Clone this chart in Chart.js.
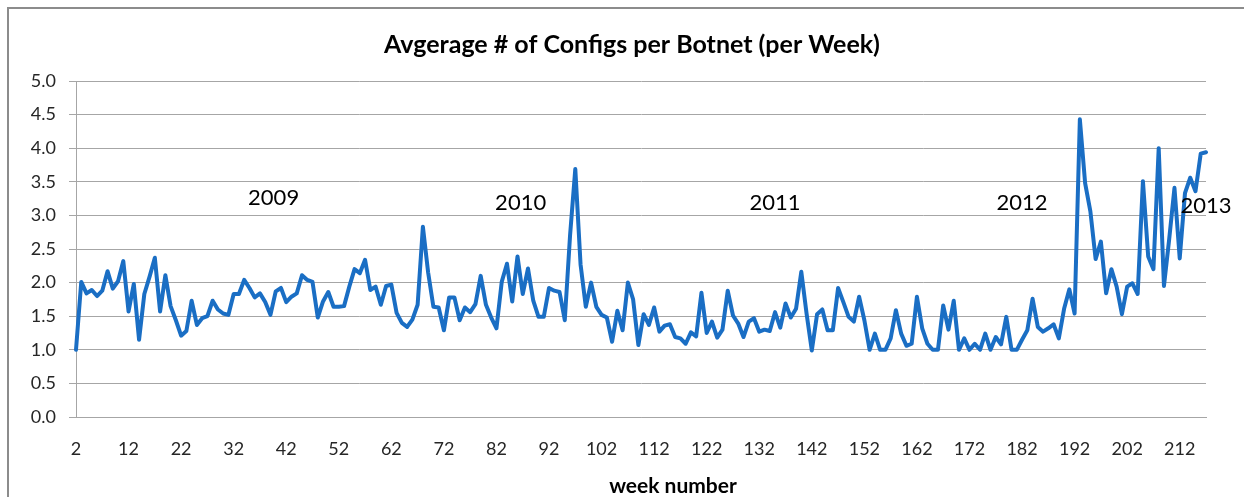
<!DOCTYPE html>
<html>
<head>
<meta charset="utf-8">
<title>Avgerage # of Configs per Botnet (per Week)</title>
<script src="https://cdn.jsdelivr.net/npm/chart.js@4.4.1/dist/chart.umd.min.js"></script>
<style>
  html, body { margin: 0; padding: 0; background: #fff; }
  #wrap { position: relative; width: 1244px; height: 497px; }
</style>
</head>
<body>
<div id="wrap"><canvas id="configsChart"></canvas></div>
<script>
// average configs per botnet, one value per week starting at week 2
const avgConfigs = [
    1.00, 2.01, 1.84, 1.89, 1.80, 1.88, 2.17, 1.91, 2.02, 2.32,
    1.57, 1.98, 1.15, 1.83, 2.09, 2.37, 1.57, 2.11, 1.65, 1.44,
    1.21, 1.28, 1.73, 1.37, 1.47, 1.50, 1.73, 1.60, 1.54, 1.52,
    1.83, 1.83, 2.04, 1.92, 1.78, 1.84, 1.71, 1.52, 1.87, 1.92,
    1.71, 1.79, 1.84, 2.11, 2.04, 2.01, 1.48, 1.72, 1.86, 1.64,
    1.64, 1.65, 1.94, 2.20, 2.14, 2.34, 1.89, 1.94, 1.67, 1.95,
    1.97, 1.55, 1.40, 1.34, 1.45, 1.67, 2.83, 2.15, 1.64, 1.63,
    1.29, 1.78, 1.78, 1.44, 1.63, 1.56, 1.68, 2.10, 1.67, 1.48,
    1.32, 2.01, 2.28, 1.72, 2.39, 1.83, 2.21, 1.73, 1.49, 1.49,
    1.92, 1.88, 1.86, 1.44, 2.70, 3.69, 2.27, 1.64, 2.00, 1.64,
    1.52, 1.48, 1.12, 1.58, 1.29, 2.00, 1.75, 1.07, 1.53, 1.37,
    1.63, 1.27, 1.36, 1.38, 1.19, 1.17, 1.09, 1.26, 1.20, 1.85,
    1.25, 1.42, 1.18, 1.30, 1.88, 1.51, 1.39, 1.19, 1.42, 1.47,
    1.27, 1.30, 1.28, 1.56, 1.33, 1.69, 1.48, 1.61, 2.16, 1.54,
    0.99, 1.53, 1.60, 1.29, 1.29, 1.92, 1.71, 1.49, 1.42, 1.79,
    1.44, 1.00, 1.24, 1.00, 1.00, 1.17, 1.59, 1.24, 1.06, 1.09,
    1.79, 1.32, 1.09, 1.00, 1.00, 1.66, 1.30, 1.73, 1.00, 1.17,
    1.00, 1.09, 1.00, 1.24, 1.00, 1.19, 1.08, 1.49, 1.00, 1.00,
    1.15, 1.29, 1.76, 1.34, 1.27, 1.32, 1.38, 1.17, 1.61, 1.90,
    1.54, 4.43, 3.48, 3.06, 2.35, 2.61, 1.84, 2.20, 1.94, 1.53,
    1.94, 1.99, 1.83, 3.51, 2.39, 2.20, 4.00, 1.95, 2.65, 3.41,
    2.36, 3.33, 3.56, 3.36, 3.92, 3.94
];
const firstWeek = 2;
const weeks = avgConfigs.map((_, i) => firstWeek + i);

// year notes placed in the plot (week, value)
const yearLabels = ['2009', '2010', '2011', '2012', '2013'];
const yearWeek = [39.6, 86.6, 135.0, 182.0, 217.0];
const yearLevel = [3.15, 3.08, 3.08, 3.08, 3.03];

const FONT = "Lato, 'Open Sans', 'DejaVu Sans', sans-serif";

const frameAndText = {
    id: 'frameAndText',
    beforeDraw(chart) {
        const ctx = chart.ctx;
        ctx.save();
        ctx.strokeStyle = '#8c8c8c';
        ctx.lineWidth = 2;
        ctx.strokeRect(8, 8, chart.width + 50, chart.height + 50);
        ctx.restore();
    },
    afterDatasetsDraw(chart) {
        const { ctx, scales: { x, y } } = chart;
        ctx.save();
        ctx.fillStyle = '#000';
        ctx.textAlign = 'center';
        ctx.textBaseline = 'alphabetic';
        ctx.font = '22px ' + FONT;
        yearLabels.forEach((t, i) => {
            const px = x.getPixelForDecimal((yearWeek[i] - firstWeek) / (weeks.length - 1));
            ctx.fillText(t, px, y.getPixelForValue(yearLevel[i]));
        });

        ctx.textBaseline = 'middle';
        ctx.font = 'bold 25px ' + FONT;
        ctx.fillText('Avgerage # of Configs per Botnet (per Week)', 632, 45);
        ctx.font = 'bold 21px ' + FONT;
        ctx.fillText('week number', 673, 486);
        ctx.restore();
    }
};

new Chart(document.getElementById('configsChart'), {
    type: 'line',
    data: {
        labels: weeks,
        datasets: [{
            label: 'Avg configs',
            data: avgConfigs,
            borderColor: '#1a6ec4',
            borderWidth: 4,
            pointRadius: 0,
            tension: 0,
            borderJoinStyle: 'round',
            borderCapStyle: 'round',
            fill: false
        }]
    },
    options: {
        responsive: true,
        maintainAspectRatio: false,
        animation: false,
        layout: { padding: { top: 81, right: 38, bottom: 0, left: 0 } },
        plugins: {
            legend: { display: false },
            title: { display: false },
            tooltip: { enabled: false }
        },
        scales: {
            x: {
                type: 'category',
                offset: false,
                grid: { display: false, drawTicks: false },
                border: { display: true, color: '#a6a6a6', width: 1 },
                ticks: {
                    autoSkip: false,
                    maxRotation: 0,
                    padding: 21,
                    color: '#262626',
                    font: { family: FONT, size: 18 },
                    callback: function(value, index) {
                        return index % 10 === 0 ? String(weeks[index]) : null;
                    }
                },
                afterFit: (scale) => { scale.height = 80; }
            },
            y: {
                min: 0,
                max: 5,
                grid: { color: '#a6a6a6', lineWidth: 1, tickLength: 7 },
                border: { display: true, color: '#a6a6a6', width: 1 },
                ticks: {
                    stepSize: 0.5,
                    padding: 13,
                    color: '#262626',
                    font: { family: FONT, size: 18 },
                    callback: (v) => v.toFixed(1)
                },
                afterFit: (scale) => { scale.width = 76; }
            }
        }
    },
    plugins: [frameAndText]
});
</script>
</body>
</html>
